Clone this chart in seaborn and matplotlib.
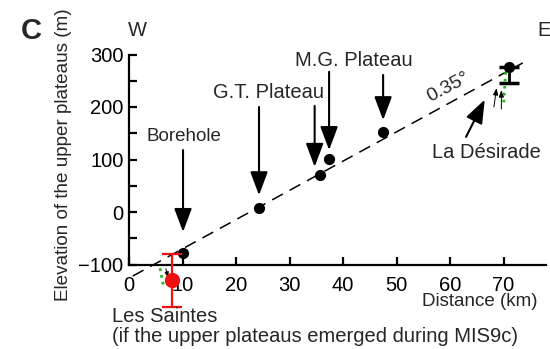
import matplotlib
matplotlib.use("Agg")
import matplotlib.pyplot as plt
import seaborn as sns
import pandas as pd

sns.set_theme(style="white")
plt.rcParams['font.family'] = ['Liberation Sans', 'DejaVu Sans']

# ---- data ----
distance_km = [10.1, 24.3, 35.7, 37.4, 47.5, 71.0]
elevation_m = [-79, 8, 70, 101, 152, 276]
desirade_err_low = 30

saintes_x = [8.0]
saintes_y = [-130]
saintes_err = [50]

trend_x = [0.7, 73.6]
trend_y = [-122, 284]

x_ticks = [0, 10, 20, 30, 40, 50, 60, 70]
y_ticks = [-100, 0, 100, 200, 300]
y_minor = [-50, 50, 150, 250]

# arrows: (x, y_start, y_tip)
arrow_x = [10.1, 24.3, 34.7, 37.4, 47.5]
arrow_y0 = [118, 200, 202, 267, 261]
arrow_y1 = [-38, 32, 86, 118, 175]

labels = ["Borehole", "G.T. Plateau", "M.G. Plateau"]
label_x = [10.3, 26.0, 42.0]
label_y = [143, 227, 288]
label_fs = [13.5, 14.5, 14.5]

W, H = 550, 349
fig = plt.figure(figsize=(5.5, 3.49), dpi=100)
x0px, xpk = 129, 5.35
y0px, ypm = 212, 0.525
xlim = (0, 78)
ylim = (-185, 310)
left = x0px / W
right_px = x0px + xlim[1] * xpk
top_px = y0px - ylim[1] * ypm
bot_px = y0px - ylim[0] * ypm
ax = fig.add_axes([left, (H - bot_px) / H, (right_px - x0px) / W, (bot_px - top_px) / H])
ax.set_xlim(*xlim)
ax.set_ylim(*ylim)
ax.patch.set_alpha(0)

df = pd.DataFrame({"Distance": distance_km, "Elevation": elevation_m})

# trend line
ax.plot(trend_x, trend_y, color="black", lw=1.1, dashes=(8, 5), zorder=2)

sns.scatterplot(data=df, x="Distance", y="Elevation", ax=ax, color="black",
                s=65, edgecolor="black", linewidth=0, zorder=4, legend=False)

# La Desirade lower error bar
ax.errorbar([distance_km[-1]], [elevation_m[-1]], yerr=[[desirade_err_low], [0]],
            fmt="none", ecolor="black", elinewidth=2, capsize=7, capthick=2.5, zorder=3)

# Les Saintes
ax.errorbar(saintes_x, saintes_y, yerr=saintes_err, fmt="o", color="#ee1111",
            ms=10, elinewidth=1.6, capsize=7, capthick=1.6, zorder=4, clip_on=False)

# arrows
for xa, ya0, ya1 in zip(arrow_x, arrow_y0, arrow_y1):
    ax.annotate("", xy=(xa, ya1), xytext=(xa, ya0),
                arrowprops=dict(arrowstyle="-|>,head_length=0.8,head_width=0.3",
                                mutation_scale=18, color="black", lw=1.5,
                                shrinkA=0, shrinkB=0))
ax.annotate("", xy=(66.5, 214), xytext=(63.0, 143),
            arrowprops=dict(arrowstyle="-|>,head_length=0.8,head_width=0.3",
                            mutation_scale=18, color="black", lw=1.5,
                            shrinkA=0, shrinkB=0))

for t, xx, yy, fs in zip(labels, label_x, label_y, label_fs):
    ax.text(xx, yy, t, ha="center", va="center", fontsize=fs)
ax.text(66.8, 114, "La Désirade", ha="center", va="center", fontsize=14.5)
ax.text(59.6, 238, "0.35°", ha="center", va="center", fontsize=14, rotation=28)

# green dotted lines and small arrows
ax.plot([70.5, 70.0], [280, 204], color="#22bb22", lw=2, ls=(0, (1, 1.5)), zorder=3)
ax.plot([5.8, 6.4], [-107, -139], color="#22bb22", lw=2, ls=(0, (1, 1.5)), zorder=3, clip_on=False)
ax.annotate("", xy=(68.7, 236), xytext=(68.2, 200),
            arrowprops=dict(arrowstyle="-|>,head_length=0.4,head_width=0.15",
                            mutation_scale=10, color="black", lw=0.7, shrinkA=0, shrinkB=0))
ax.annotate("", xy=(69.6, 232), xytext=(69.6, 196),
            arrowprops=dict(arrowstyle="-|>,head_length=0.4,head_width=0.15",
                            mutation_scale=10, color="black", lw=0.7, shrinkA=0, shrinkB=0))
ax.annotate("", xy=(7.3, -125), xytext=(6.9, -108),
            arrowprops=dict(arrowstyle="-|>,head_length=0.4,head_width=0.15",
                            mutation_scale=8, color="black", lw=0.7, shrinkA=0, shrinkB=0),
            annotation_clip=False)

# spines and ticks
for s in ["top", "right"]:
    ax.spines[s].set_visible(False)
ax.spines["bottom"].set_position(("data", -100))
ax.spines["left"].set_bounds(-100, 300)
ax.spines["bottom"].set_bounds(0, 78)
for s in ["left", "bottom"]:
    ax.spines[s].set_linewidth(1.6)
    ax.spines[s].set_color("black")
ax.set_xticks(x_ticks)
ax.set_yticks(y_ticks)
ax.set_yticks(y_minor, minor=True)
ax.tick_params(axis="both", which="both", direction="in", length=6, width=1.6,
               color="black", labelsize=14.5)
ax.tick_params(axis="y", which="major", pad=4)
ax.tick_params(axis="x", which="major", pad=8)
ax.tick_params(left=True, bottom=True, which="both")
ax.tick_params(axis="x", which="minor", bottom=False)
ax.set_xlabel("")
ax.set_ylabel("")
for lab in ax.get_xticklabels() + ax.get_yticklabels():
    lab.set_color("black")

def ftxt(px, py, s, **kw):
    fig.text(px / W, 1 - py / H, s, **kw)

ftxt(31, 31, "C", fontsize=21, fontweight="bold", ha="center", va="center")
ftxt(137, 31, "W", fontsize=14.5, ha="center", va="center")
ftxt(544, 31, "E", fontsize=14.5, ha="center", va="center")
ftxt(64, 155, "Elevation of the upper plateaus (m)", fontsize=13.6, rotation=90,
     ha="center", va="center")
ftxt(480, 302, "Distance (km)", fontsize=13.5, ha="center", va="center")
ftxt(112, 316, "Les Saintes", fontsize=14.5, ha="left", va="center")
ftxt(112, 336, "(if the upper plateaus emerged during MIS9c)", fontsize=14.5,
     ha="left", va="center")

fig.savefig("out.png", dpi=100)
